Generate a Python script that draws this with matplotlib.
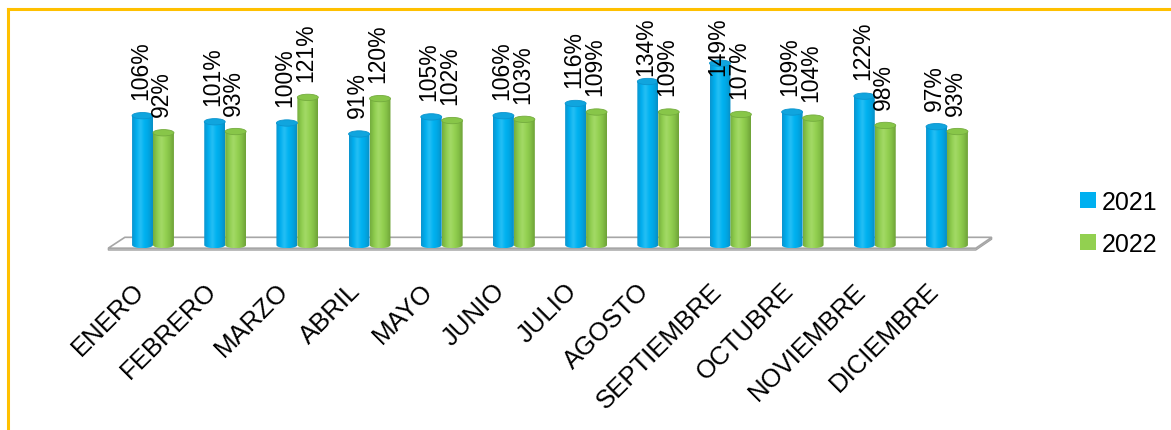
import numpy as np
import matplotlib
matplotlib.use("Agg")
import matplotlib.pyplot as plt
from matplotlib.patches import Ellipse, Polygon, Patch, PathPatch
from matplotlib.path import Path
from matplotlib.colors import LinearSegmentedColormap
from matplotlib.lines import Line2D

# ---- data ----
meses = ["ENERO", "FEBRERO", "MARZO", "ABRIL", "MAYO", "JUNIO", "JULIO",
         "AGOSTO", "SEPTIEMBRE", "OCTUBRE", "NOVIEMBRE", "DICIEMBRE"]
valores_2021 = [106, 101, 100, 91, 105, 106, 116, 134, 149, 109, 122, 97]
valores_2022 = [92, 93, 121, 120, 102, 103, 109, 109, 107, 104, 98, 93]
series = ["2021", "2022"]

plt.rcParams['font.family'] = ['Liberation Sans', 'DejaVu Sans']

W, H = 1171, 431
PX_X = 72.18      # pixels per category
PX_Y = 1.22       # pixels per percent
X0_PX = 153       # pixel x of the first category
Y0_PX = 246       # pixel row of the floor (value 0)

fig = plt.figure(figsize=(W / 100, H / 100), dpi=100)
ax = fig.add_axes([0, 0, 1, 1])
ax.set_xlim(-X0_PX / PX_X, (W - X0_PX) / PX_X)
ax.set_ylim(-(H - Y0_PX) / PX_Y, Y0_PX / PX_Y)
ax.axis('off')

n = len(meses)
x = np.arange(n)
bar_w = 0.29
cap = 2.6  # half-height of the cylinder caps, in percent units

# ---- floor (thin 3D slab) ----
fl_front, fl_back = -2.6, 6.3
fl_left_f, fl_left_b = -0.62, -0.39
fl_right_f, fl_right_b = n - 1 + 0.40, n - 1 + 0.62
slab = 1.6
ax.add_patch(Polygon([(fl_left_f, fl_front - slab), (fl_right_f, fl_front - slab),
                      (fl_right_b, fl_back - slab), (fl_right_b, fl_back),
                      (fl_right_f, fl_front), (fl_left_f, fl_front)],
                     closed=True, facecolor='#C8C8C8', edgecolor='#A0A0A0', lw=0.8, zorder=1))
ax.add_patch(Polygon([(fl_left_f, fl_front), (fl_right_f, fl_front),
                      (fl_right_b, fl_back), (fl_left_b, fl_back)],
                     closed=True, facecolor='white', edgecolor='#A6A6A6', lw=1.2, zorder=1.5))

blue_grad = ['#0B94CE', '#00AEEE', '#26BFF4', '#00B2F1', '#00A6E3', '#0A8EC4']
green_grad = ['#74AC3E', '#8ECC4E', '#A4DA67', '#94D152', '#84C046', '#6EA238']


def cilindro(xc, v, colors, top_color, edge_color):
    x0, x1 = xc - bar_w / 2, xc + bar_w / 2
    t = np.linspace(0, np.pi, 40)
    bx = xc - (bar_w / 2) * np.cos(t)
    by = -cap * np.sin(t)
    verts = [(x0, v)] + list(zip(bx, by)) + [(x1, v), (x0, v)]
    clip = PathPatch(Path(verts, closed=True), facecolor='none', edgecolor='none')
    ax.add_patch(clip)
    cmap = LinearSegmentedColormap.from_list('cyl', colors)
    grad = np.linspace(0, 1, 64).reshape(1, -1)
    im = ax.imshow(grad, cmap=cmap, extent=(x0, x1, -cap, v), aspect='auto',
                   interpolation='bicubic', zorder=3)
    im.set_clip_path(clip)
    ax.add_patch(Ellipse((xc, v), bar_w, 2 * cap, facecolor=top_color,
                         edgecolor=edge_color, lw=0.6, zorder=4))


for i in range(n):
    cilindro(x[i] - bar_w / 2, valores_2021[i], blue_grad, '#10A5DE', '#0B94CE')
    cilindro(x[i] + bar_w / 2, valores_2022[i], green_grad, '#88C649', '#74AC3E')

# ---- value labels ----
labels = []
for i in range(n):
    for xs, v in ((x[i] - bar_w / 2, valores_2021[i]), (x[i] + bar_w / 2, valores_2022[i])):
        t = ax.annotate(f"{v}%", xy=(xs, v), xytext=(-1.5, 12), textcoords='offset points',
                        rotation=90, ha='center', va='bottom', fontsize=16.5,
                        color='black', zorder=6)
        labels.append(t)

fig.canvas.draw()
top_limit = H - 17
for t in labels:
    ext = t.get_window_extent()
    if ext.y1 > top_limit:
        dx, dy = t.xyann
        t.xyann = (dx, dy - (ext.y1 - top_limit) * 72 / 100)

# ---- category labels ----
y_cat = (Y0_PX - 279) / PX_Y
for i, m in enumerate(meses):
    ax.text(x[i] - 4 / PX_X, y_cat, m, rotation=45, ha='right', va='top',
            fontsize=18.5, color='black')

# ---- legend ----
handles = [Patch(facecolor='#00B0F0', edgecolor='none'),
           Patch(facecolor='#92D050', edgecolor='none')]
fig.legend(handles, series, loc='center left', bbox_to_anchor=(1080 / W, 1 - 224 / H),
           frameon=False, fontsize=18, handlelength=0.62, handleheight=0.62,
           handletextpad=0.25, labelspacing=0.72, borderpad=0, borderaxespad=0)

# ---- frame ----
fig.add_artist(Line2D([8 / W, 8 / W], [0, 1 - 10 / H], transform=fig.transFigure,
                      color='#FFC000', lw=2.2, solid_capstyle='projecting'))
fig.add_artist(Line2D([8 / W, 1], [1 - 10 / H, 1 - 10 / H], transform=fig.transFigure,
                      color='#FFC000', lw=2.2, solid_capstyle='projecting'))

fig.savefig("out.png", dpi=100)
